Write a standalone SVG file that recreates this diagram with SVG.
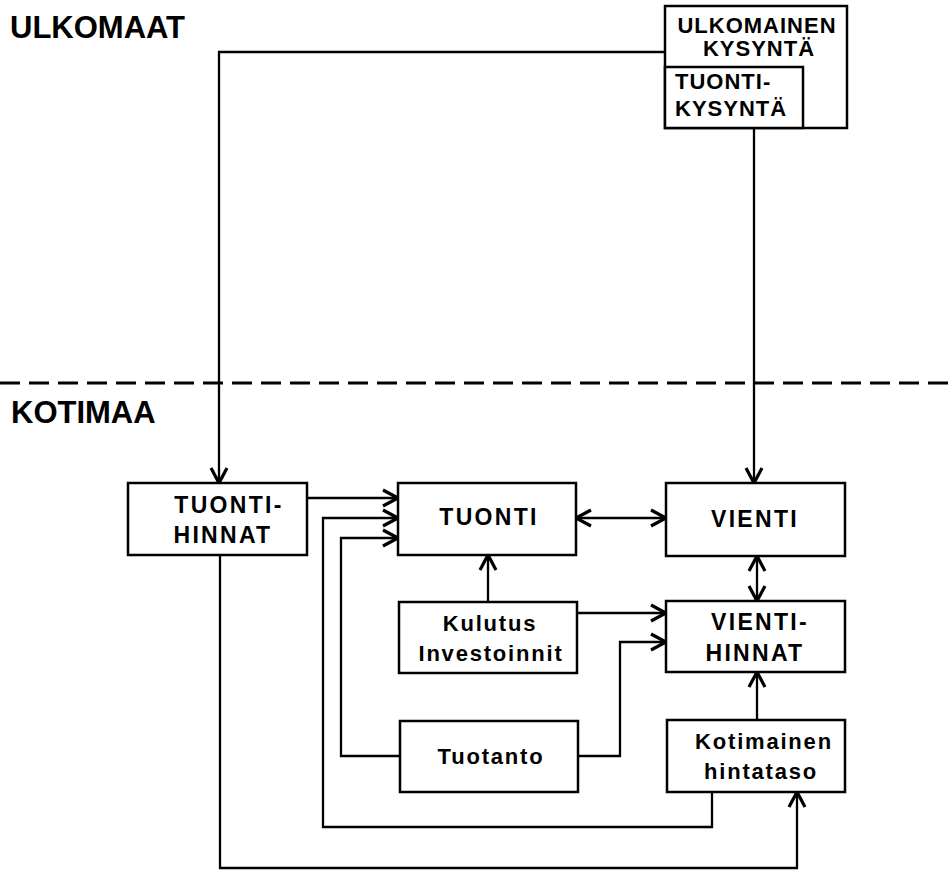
<svg xmlns="http://www.w3.org/2000/svg" width="949" height="870" viewBox="0 0 949 870">
<style>
.bg{fill:#fff}
.box{fill:#fff;stroke:#000;stroke-width:2.5}
.ln{fill:none;stroke:#000;stroke-width:2.3;stroke-linejoin:miter}
.t{font-family:"Liberation Sans",Arial,Helvetica,sans-serif;font-weight:bold;fill:#000;font-size:23px;letter-spacing:2.3px}
.tl{font-family:"Liberation Sans",Arial,Helvetica,sans-serif;font-weight:bold;fill:#000;font-size:22px;letter-spacing:1.8px}
.tu{font-family:"Liberation Sans",Arial,Helvetica,sans-serif;font-weight:bold;fill:#000;font-size:22px;letter-spacing:1px}
.big{font-family:"Liberation Sans",Arial,Helvetica,sans-serif;font-weight:bold;fill:#000;font-size:31px}
.dash{stroke:#000;stroke-width:3;stroke-dasharray:20 9}
</style>
<defs>
<marker id="arr" viewBox="-20 -12 25 24" refX="0" refY="0" markerWidth="25" markerHeight="24" markerUnits="userSpaceOnUse" orient="auto-start-reverse">
<path d="M-15,-8 L0,0 L-15,8" fill="none" stroke="#000" stroke-width="3.2"/>
</marker>
</defs>
<rect class="bg" x="0" y="0" width="949" height="870"/>

<g id="regions">
<text class="big" x="10" y="38">ULKOMAAT</text>
<line class="dash" x1="0" y1="383" x2="949" y2="383"/>
<text class="big" x="11" y="423">KOTIMAA</text>
</g>

<g id="connectors">
<polyline class="ln" points="665,52 219,52 219,483" marker-end="url(#arr)"/>
<polyline class="ln" points="754,128 754,483" marker-end="url(#arr)"/>
<polyline class="ln" points="307,498 398,498" marker-end="url(#arr)"/>
<polyline class="ln" points="712,792 712,827 323,827 323,518 398,518" marker-end="url(#arr)"/>
<polyline class="ln" points="400,756 341,756 341,538 398,538" marker-end="url(#arr)"/>
<line class="ln" x1="576" y1="518" x2="666" y2="518" marker-start="url(#arr)" marker-end="url(#arr)"/>
<line class="ln" x1="757" y1="556" x2="757" y2="601" marker-start="url(#arr)" marker-end="url(#arr)"/>
<polyline class="ln" points="488,602 488,555" marker-end="url(#arr)"/>
<polyline class="ln" points="577,613 666,613" marker-end="url(#arr)"/>
<polyline class="ln" points="578,756 620,756 620,642 666,642" marker-end="url(#arr)"/>
<polyline class="ln" points="757,720 757,672" marker-end="url(#arr)"/>
<polyline class="ln" points="220,555 220,868 797,868 797,792" marker-end="url(#arr)"/>
</g>

<g id="ulkomainen-kysynta">
<rect class="box" x="665" y="6" width="182" height="122"/>
<text class="tu" x="757" y="33" text-anchor="middle">ULKOMAINEN</text>
<text class="tu" x="759" y="56" text-anchor="middle">KYSYNTÄ</text>
</g>
<g id="tuonti-kysynta">
<rect class="box" x="665" y="67" width="138" height="61"/>
<text class="tu" x="675" y="89">TUONTI-</text>
<text class="tu" x="675" y="116">KYSYNTÄ</text>
</g>

<g id="tuonti-hinnat">
<rect class="box" x="128" y="483" width="179" height="72"/>
<text class="t" x="229" y="513" text-anchor="middle">TUONTI-</text>
<text class="t" x="223" y="543" text-anchor="middle">HINNAT</text>
</g>
<g id="tuonti">
<rect class="box" x="398" y="483" width="178" height="72"/>
<text class="t" x="489" y="525" text-anchor="middle">TUONTI</text>
</g>
<g id="vienti">
<rect class="box" x="666" y="483" width="179" height="73"/>
<text class="t" x="755" y="527" text-anchor="middle">VIENTI</text>
</g>
<g id="kulutus">
<rect class="box" x="399" y="602" width="178" height="71"/>
<text class="tl" x="490" y="631" text-anchor="middle">Kulutus</text>
<text class="tl" x="491" y="661" text-anchor="middle">Investoinnit</text>
</g>
<g id="vienti-hinnat">
<rect class="box" x="666" y="601" width="179" height="71"/>
<text class="t" x="760" y="630" text-anchor="middle">VIENTI-</text>
<text class="t" x="755" y="661" text-anchor="middle">HINNAT</text>
</g>
<g id="tuotanto">
<rect class="box" x="400" y="721" width="178" height="71"/>
<text class="tl" x="491" y="764" text-anchor="middle">Tuotanto</text>
</g>
<g id="kotimainen-hintataso">
<rect class="box" x="667" y="720" width="178" height="72"/>
<text class="tl" x="764" y="749" text-anchor="middle">Kotimainen</text>
<text class="tl" x="761" y="779" text-anchor="middle">hintataso</text>
</g>
</svg>
